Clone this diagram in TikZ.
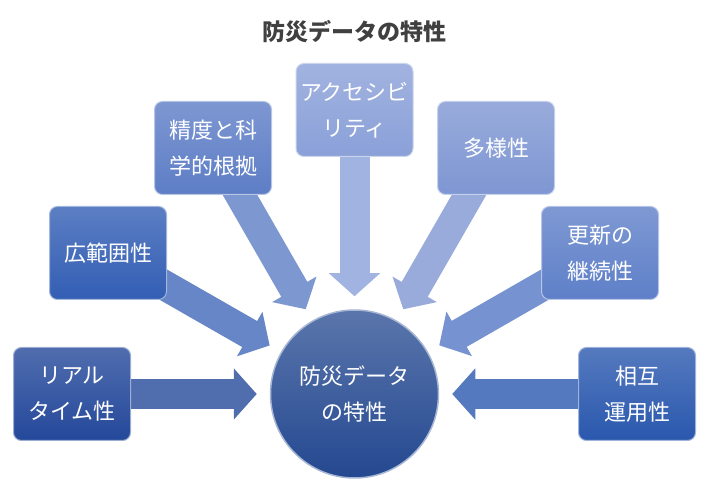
\documentclass[tikz,border=0pt]{standalone}
\usepackage{fontspec}
\newfontfamily\jp{Noto Sans CJK JP}
\usetikzlibrary{arrows.meta,backgrounds}
\definecolor{realC}{HTML}{24489A}
\definecolor{wideC}{HTML}{335EB4}
\definecolor{precC}{HTML}{5D7DC6}
\definecolor{accC}{HTML}{8AA0D8}
\definecolor{diverC}{HTML}{7E96D2}
\definecolor{updC}{HTML}{5E7FC8}
\definecolor{interC}{HTML}{2A58AE}
\definecolor{hubC}{HTML}{244890}
\begin{document}
\begin{tikzpicture}[
            x=1pt, y=-1pt,
            every node/.style = {text=white, align=center, font=\jp\fontsize{22}{36}\selectfont},
            card/.style = {rounded corners=8pt, minimum width=117pt, minimum height=93pt, line width=1pt,
                           draw=#1!45!white, top color=#1!80!white, bottom color=#1},
            bigarrow/.style = {line width=30pt, draw=#1, -{Triangle[width=50pt, length=23pt]}, shorten >=13pt}
          ]
          \useasboundingbox (0,0) rectangle (713,486);
          \node[text=black!75, font=\jp\bfseries\fontsize{23}{26}\selectfont] (title) at (354.5,32) {防災データの特性};
          \node[circle, minimum size=168pt, inner sep=0pt, line width=1.5pt, draw=hubC!40!white,
                top color=hubC!75!white, bottom color=hubC] (hub) at (354.5,394) {防災データ\\の特性};
          \node[card=realC] (real) at (72,394) {リアル\\タイム性};
          \node[card=wideC] (wide) at (108,253) {広範囲性};
          \node[card=precC] (prec) at (213,148) {精度と科\\学的根拠};
          \node[card=accC] (acc) at (354.5,110) {アクセシビ\\リティ};
          \node[card=diverC] (diver) at (496,148) {多様性};
          \node[card=updC] (upd) at (600,253) {更新の\\継続性};
          \node[card=interC] (inter) at (637,394) {相互\\運用性};
          \begin{scope}[on background layer]
            \draw[bigarrow=realC!80!white] (real.center) -- (hub);
            \draw[bigarrow=wideC!75!white] (wide.center) -- (hub);
            \draw[bigarrow=precC!80!white] (prec.center) -- (hub);
            \draw[bigarrow=accC!80!white] (acc.center) -- (hub);
            \draw[bigarrow=diverC!80!white] (diver.center) -- (hub);
            \draw[bigarrow=updC!85!white] (upd.center) -- (hub);
            \draw[bigarrow=interC!80!white] (inter.center) -- (hub);
          \end{scope}
        \end{tikzpicture}
\end{document}
